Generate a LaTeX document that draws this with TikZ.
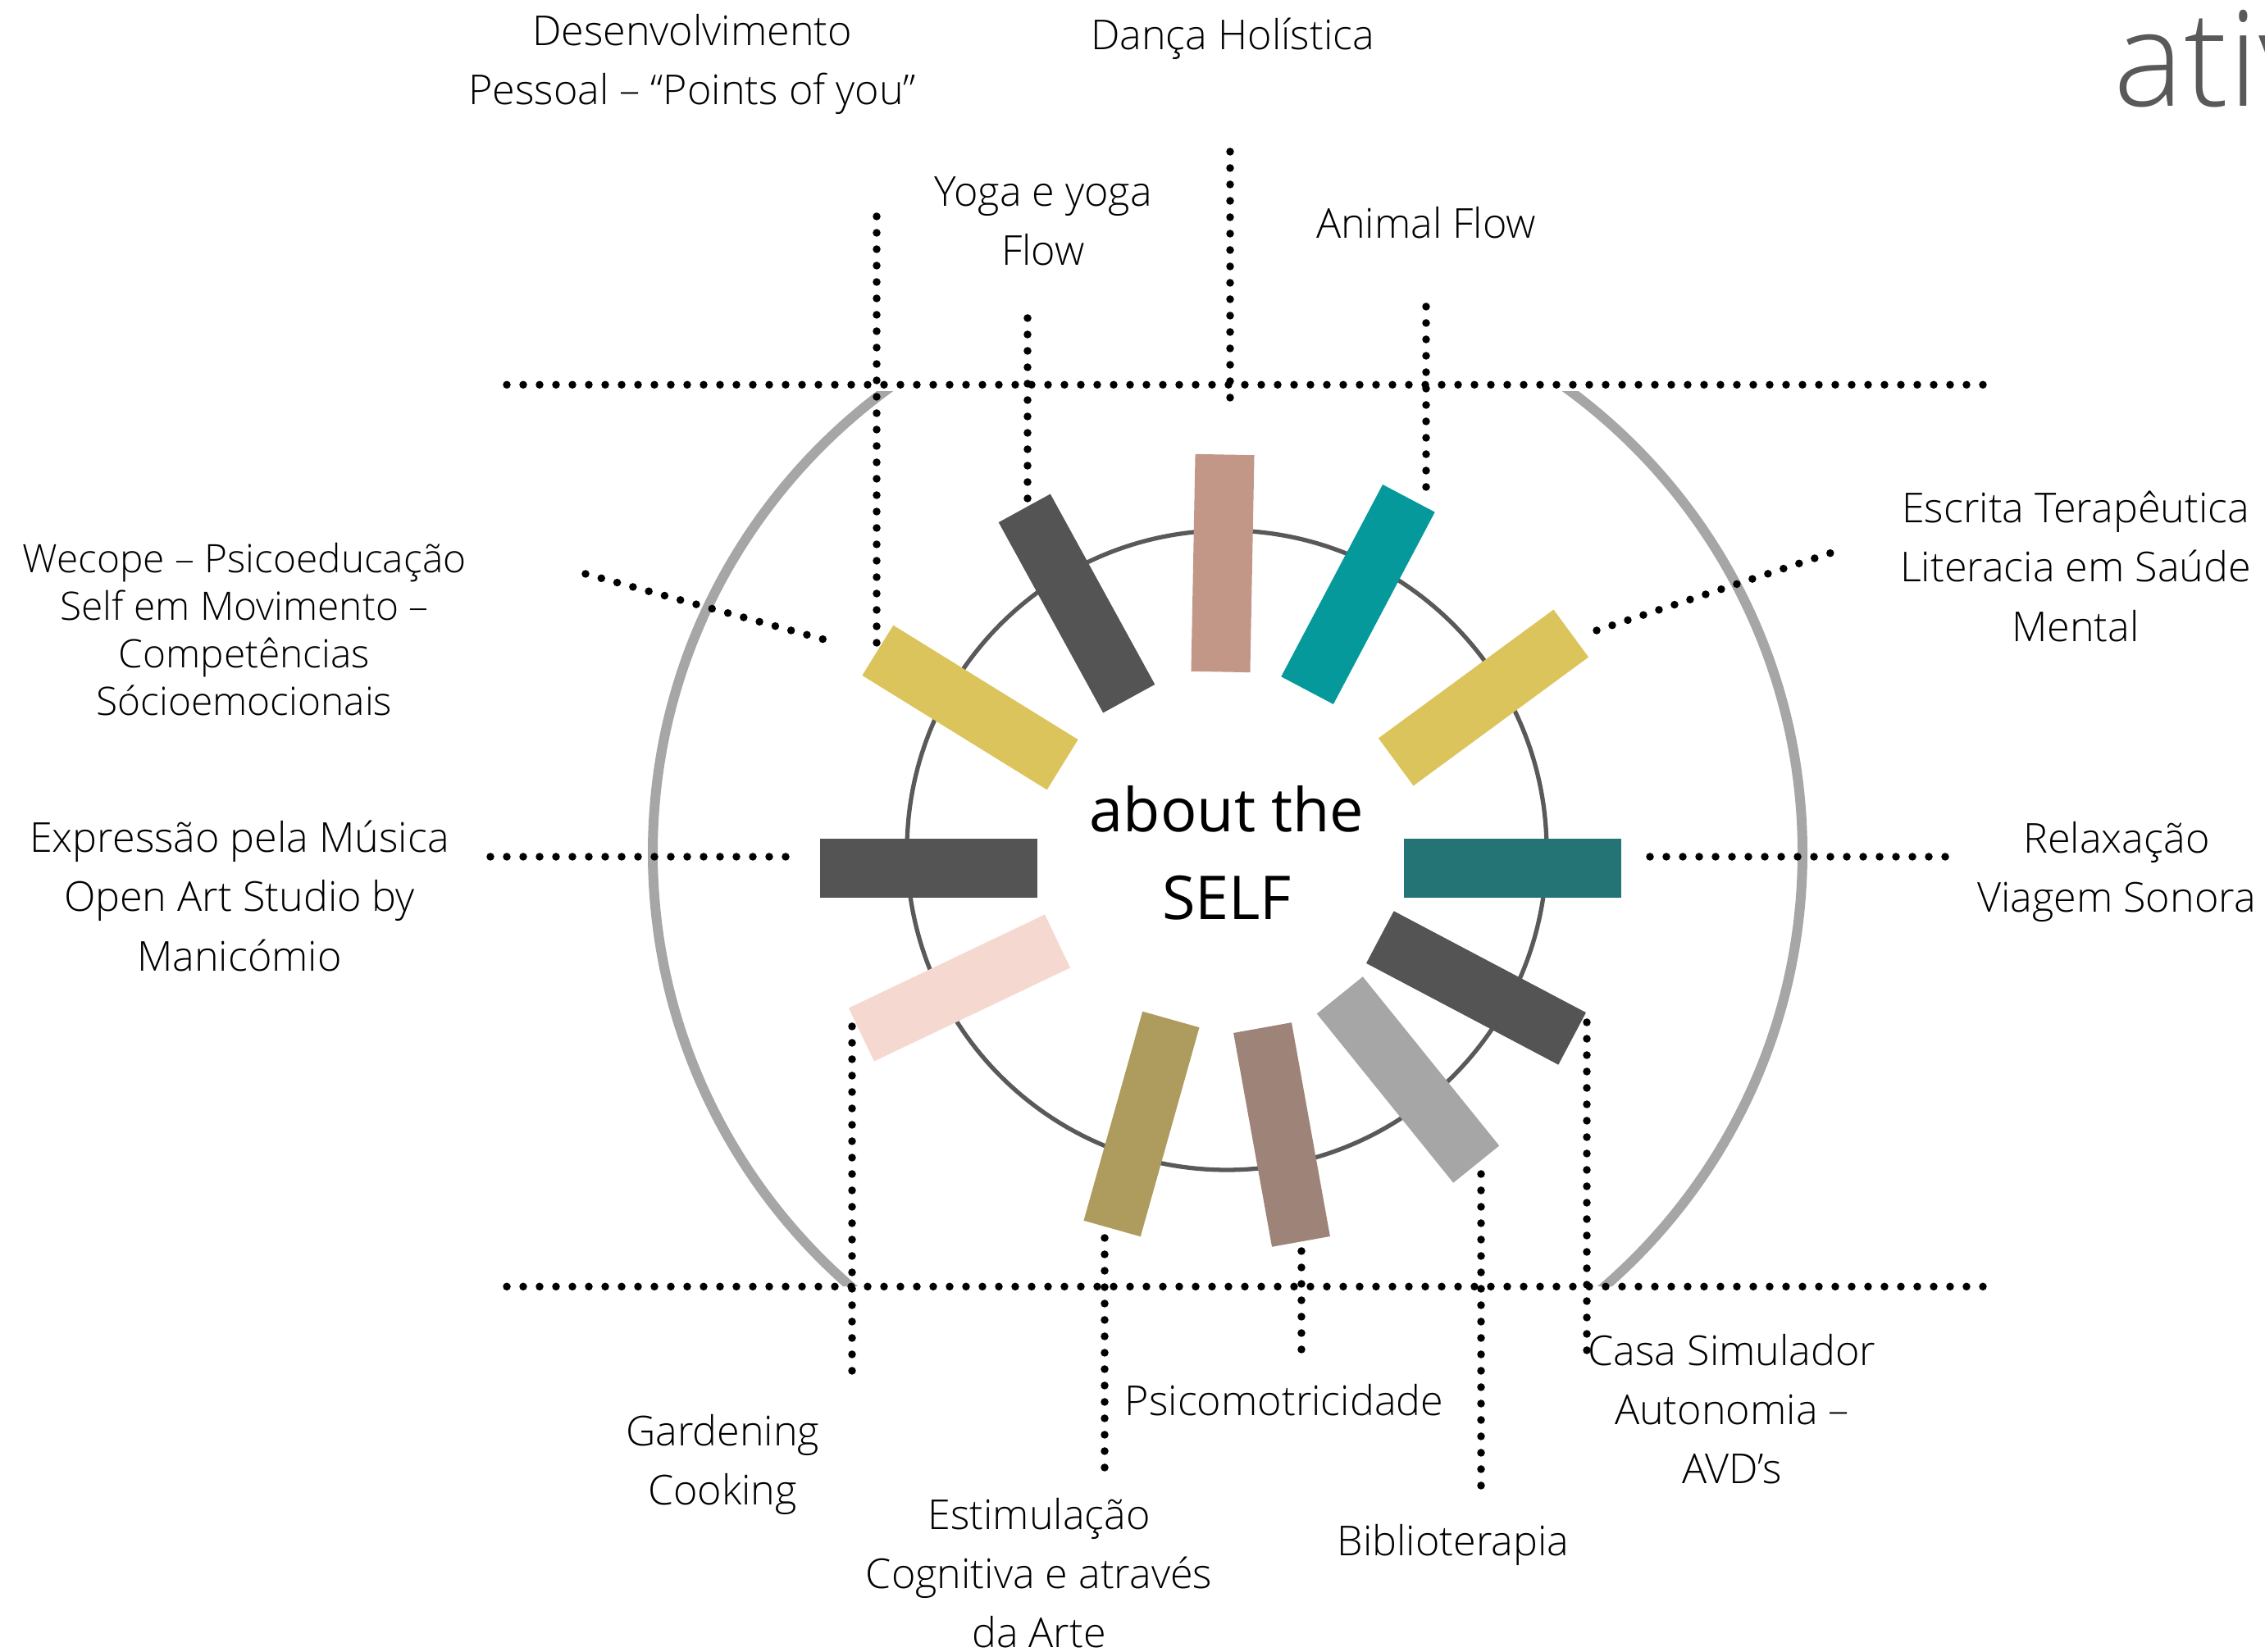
\documentclass[tikz,border=0pt]{standalone}
\usepackage{fontspec}
\setmainfont{Open Sans Light}
\newfontfamily\selffont{Open Sans}
\definecolor{darkbar}{HTML}{545454}
\definecolor{rosebar}{HTML}{C29787}
\definecolor{tealbar}{HTML}{05999C}
\definecolor{yellowbar}{HTML}{DCC45C}
\definecolor{petrolbar}{HTML}{247476}
\definecolor{greybar}{HTML}{A6A6A6}
\definecolor{taupebar}{HTML}{9E8378}
\definecolor{olivebar}{HTML}{AE9C5F}
\definecolor{pinkbar}{HTML}{F5D9D0}
\definecolor{ringgrey}{HTML}{595959}
\tikzset{
  bar/.style={rectangle, minimum width=2.65cm, minimum height=0.72cm, inner sep=0pt},
  dots/.style={line width=0.095cm, line cap=round, dash pattern=on 0pt off 0.2cm},
  lbl/.style={align=center, font=\fontsize{14.3}{20.5}\selectfont},
}
\begin{document}
\begin{tikzpicture}
  \useasboundingbox (0,0) rectangle (27.62,20.15);

  % rings
  \begin{scope}
    \clip (0,4.46) rectangle (27.62,15.37);
    \draw[greybar, line width=0.12cm] (14.97,9.75) circle (7.01);
  \end{scope}
  \draw[ringgrey, line width=1.5pt] (14.96,9.78) circle (3.90);

  % bars
  \node[bar, fill=darkbar, rotate=-61.25] (b1) at (13.13,12.79) {};
  \node[bar, fill=rosebar, rotate=88.9] (b2) at (14.91,13.28) {};
  \node[bar, fill=tealbar, rotate=62.15] (b3) at (16.56,12.90) {};
  \node[bar, fill=yellowbar, rotate=36.3] (b4) at (18.09,11.64) {};
  \node[bar, fill=yellowbar, rotate=-31.75] (b5) at (11.83,11.52) {};
  \node[bar, fill=darkbar] (b6) at (11.32,9.56) {};
  \node[bar, fill=petrolbar] (b7) at (18.44,9.56) {};
  \node[bar, fill=darkbar, rotate=-27.85] (b8) at (18.00,8.10) {};
  \node[bar, fill=greybar, rotate=-51.1] (b9) at (17.17,6.98) {};
  \node[bar, fill=taupebar, rotate=-79.8] (b10) at (15.63,6.31) {};
  \node[bar, fill=olivebar, rotate=74.3] (b11) at (13.92,6.44) {};
  \node[bar, fill=pinkbar, rotate=25.5] (b12) at (11.70,8.10) {};

  % centre
  \node[align=center, font=\selffont\fontsize{21}{30.5}\selectfont] (self) at (14.96,9.75) {about the\\SELF};
  \node[anchor=base west, text=ringgrey, inner sep=0pt, font=\fontsize{46}{50}\selectfont] (ativ) at (25.77,18.85) {ativ};

  % top labels
  \node[lbl] (t1) at (8.44,19.37) {Desenvolvimento\\Pessoal – “Points of you”};
  \node[lbl] (t2) at (15.03,19.68) {Dança Holística};
  \node[lbl] (t3) at (12.72,17.45) {Yoga e yoga\\Flow};
  \node[lbl] (t4) at (17.39,17.43) {Animal Flow};
  % side labels
  \node[lbl] (t5) at (25.31,13.24) {Escrita Terapêutica\\Literacia em Saúde\\Mental};
  \node[lbl, font=\fontsize{13.6}{16.5}\selectfont] (t6) at (2.98,12.47) {Wecope – Psicoeducação\\Self em Movimento –\\Competências\\Sócioemocionais};
  \node[lbl] (t7) at (2.92,9.22) {Expressão pela Música\\Open Art Studio by\\Manicómio};
  \node[lbl] (t8) at (25.81,9.52) {Relaxação\\Viagem Sonora};
  % bottom labels
  \node[lbl] (t9) at (8.81,2.29) {Gardening\\Cooking};
  \node[lbl] (t10) at (12.67,0.96) {Estimulação\\Cognitiva e através\\da Arte};
  \node[lbl] (t11) at (15.66,3.07) {Psicomotricidade};
  \node[lbl] (t12) at (17.72,1.31) {Biblioterapia};
  \node[lbl] (t13) at (21.12,2.96) {Casa Simulador\\Autonomia –\\AVD’s};

  % connector ends
  \coordinate (h1a) at (6.18,15.457);
  \coordinate (h1b) at (24.32,15.457);
  \coordinate (h2a) at (6.18,4.457);
  \coordinate (h2b) at (24.32,4.457);
  \coordinate (d1a) at (10.69,17.51);
  \coordinate (d1b) at (10.69,12.22);
  \coordinate (d2a) at (12.53,16.27);
  \coordinate (d2b) at (12.53,14.03);
  \coordinate (d3a) at (15.00,18.30);
  \coordinate (d3b) at (15.00,15.26);
  \coordinate (d4a) at (17.39,16.41);
  \coordinate (d4b) at (17.39,14.16);
  \coordinate (d5a) at (19.47,12.46);
  \coordinate (d5b) at (22.37,13.42);
  \coordinate (d6a) at (7.14,13.15);
  \coordinate (d6b) at (10.12,12.33);
  \coordinate (d7a) at (5.98,9.70);
  \coordinate (d7b) at (9.62,9.70);
  \coordinate (d8a) at (20.12,9.70);
  \coordinate (d8b) at (23.82,9.70);
  \coordinate (d9a) at (10.39,7.63);
  \coordinate (d9b) at (10.39,3.40);
  \coordinate (d10a) at (13.47,5.05);
  \coordinate (d10b) at (13.47,2.19);
  \coordinate (d11a) at (15.87,4.89);
  \coordinate (d11b) at (15.87,3.65);
  \coordinate (d12a) at (18.06,5.83);
  \coordinate (d12b) at (18.06,1.99);
  \coordinate (d13a) at (19.35,7.68);
  \coordinate (d13b) at (19.35,3.60);

  % dotted lines
  \draw[dots] (h1a) -- (h1b);
  \draw[dots] (h2a) -- (h2b);
  \draw[dots] (d1a) -- (d1b);
  \draw[dots] (d2a) -- (d2b);
  \draw[dots] (d3a) -- (d3b);
  \draw[dots] (d4a) -- (d4b);
  \draw[dots] (d5a) -- (d5b);
  \draw[dots] (d6a) -- (d6b);
  \draw[dots] (d7a) -- (d7b);
  \draw[dots] (d8a) -- (d8b);
  \draw[dots] (d9a) -- (d9b);
  \draw[dots] (d10a) -- (d10b);
  \draw[dots] (d11a) -- (d11b);
  \draw[dots] (d12a) -- (d12b);
  \draw[dots] (d13a) -- (d13b);
\end{tikzpicture}
\end{document}
